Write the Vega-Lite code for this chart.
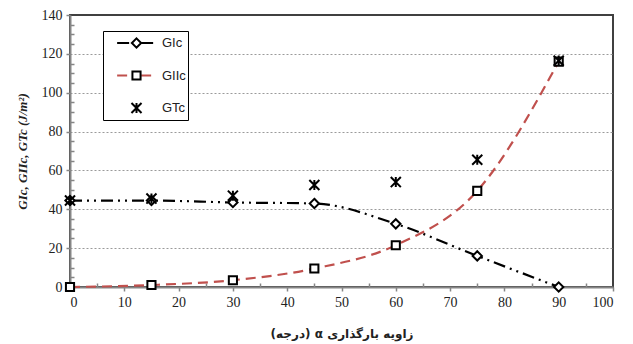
{
  "$schema": "https://vega.github.io/schema/vega-lite/v6.json",
  "width": 543,
  "height": 272,
  "autosize": {"type": "none"},
  "padding": {"left": 70, "top": 15, "right": 20, "bottom": 57},
  "background": "white",
  "config": {
    "view": {"stroke": "#404040", "strokeWidth": 2},
    "axis": {
      "labelFont": "Liberation Serif",
      "labelFontSize": 14,
      "labelColor": "#222",
      "domainColor": "#868686",
      "domainWidth": 2,
      "tickColor": "#868686",
      "tickWidth": 1.5,
      "gridColor": "#9a9a9a",
      "gridDash": [2, 2],
      "gridWidth": 1,
      "labelOverlap": false
    }
  },
  "data": {
    "values": [
      {"angle": 0, "series": "GIc", "G": 44.5},
      {"angle": 15, "series": "GIc", "G": 44.5},
      {"angle": 30, "series": "GIc", "G": 43.5},
      {"angle": 45, "series": "GIc", "G": 43},
      {"angle": 60, "series": "GIc", "G": 32.5},
      {"angle": 75, "series": "GIc", "G": 16},
      {"angle": 90, "series": "GIc", "G": 0},
      {"angle": 0, "series": "GIIc", "G": 0},
      {"angle": 15, "series": "GIIc", "G": 1},
      {"angle": 30, "series": "GIIc", "G": 3.5},
      {"angle": 45, "series": "GIIc", "G": 9.5},
      {"angle": 60, "series": "GIIc", "G": 21.5},
      {"angle": 75, "series": "GIIc", "G": 49.5},
      {"angle": 90, "series": "GIIc", "G": 116},
      {"angle": 0, "series": "GTc", "G": 44.5},
      {"angle": 15, "series": "GTc", "G": 45.5},
      {"angle": 30, "series": "GTc", "G": 47},
      {"angle": 45, "series": "GTc", "G": 52.5},
      {"angle": 60, "series": "GTc", "G": 54},
      {"angle": 75, "series": "GTc", "G": 65.5},
      {"angle": 90, "series": "GTc", "G": 116.5}
    ]
  },
  "encoding": {
    "x": {
      "field": "angle",
      "type": "quantitative",
      "scale": {"domain": [0, 100], "nice": false},
      "axis": {
        "values": [0,5,10,15,20,25,30,35,40,45,50,55,60,65,70,75,80,85,90,95,100],
        "labelExpr": "datum.value % 10 === 0 ? datum.label : ''",
        "grid": false,
        "tickSize": {"condition": {"test": "datum.value % 10 === 0", "value": 4}, "value": -4},
        "labelPadding": 4,
        "title": "\u202bزاویه بارگذاری  α  (درجه)\u202c",
        "titleFont": "DejaVu Sans",
        "titleFontSize": 12,
        "titleFontWeight": "bold",
        "titleColor": "#222",
        "titlePadding": 19
      }
    },
    "y": {
      "field": "G",
      "type": "quantitative",
      "scale": {"domain": [0, 140], "nice": false},
      "axis": {
        "values": [0,5,10,15,20,25,30,35,40,45,50,55,60,65,70,75,80,85,90,95,100,105,110,115,120,125,130,135,140],
        "labelExpr": "datum.value % 20 === 0 ? datum.label : ''",
        "grid": true,
        "gridOpacity": {"condition": {"test": "datum.value % 20 === 0 && datum.value > 0 && datum.value < 140", "value": 1}, "value": 0},
        "tickSize": {"condition": {"test": "datum.value % 20 === 0", "value": 4}, "value": -4},
        "labelPadding": 4,
        "title": "GIc,  GIIc,  GTc    (J/m²)",
        "titleFont": "Liberation Serif",
        "titleFontSize": 13,
        "titleFontWeight": "bold",
        "titleFontStyle": "italic",
        "titleColor": "#222",
        "titlePadding": 12
      }
    }
  },
  "layer": [
    {
      "transform": [{"filter": "datum.series !== 'GTc'"}],
      "mark": {"type": "line", "interpolate": "monotone", "strokeWidth": 2.2},
      "encoding": {
        "stroke": {
          "field": "series",
          "type": "nominal",
          "scale": {"domain": ["GIc", "GIIc", "GTc"], "range": ["black", "#C0504D", "transparent"]},
          "legend": {
            "orient": "none",
            "legendX": 33,
            "legendY": 16,
            "title": null,
            "symbolType": "M-1,0H-0.24M0.24,0H1",
            "symbolSize": 1500,
            "symbolStrokeWidth": 2.2,
            "symbolOffset": 11,
            "clipHeight": 20,
            "labelFont": "Liberation Sans",
            "labelFontSize": 13,
            "labelColor": "#222",
            "labelOffset": 5,
            "labelExpr": "datum.label + '\u00a0\u00a0'",
            "rowPadding": 12.5,
            "padding": 2,
            "strokeColor": "black",
            "fillColor": "white"
          }
        },
        "strokeDash": {
          "field": "series",
          "type": "nominal",
          "scale": {"domain": ["GIc", "GIIc", "GTc"], "range": [[12, 5, 2, 5, 2, 5], [10, 6], [1, 0]]}
        }
      }
    },
    {
      "mark": {"type": "point", "filled": false, "fill": "white", "stroke": "black", "strokeWidth": 2, "size": 1500, "opacity": 1},
      "encoding": {
        "shape": {
          "field": "series",
          "type": "nominal",
          "scale": {
            "domain": ["GIc", "GIIc", "GTc", "none"],
            "range": [
              "M0,-0.24L0.24,0L0,0.24L-0.24,0Z",
              "M-0.21,-0.21H0.21V0.21H-0.21Z",
              "M-0.26,-0.26L0.26,0.26M0.26,-0.26L-0.26,0.26M0,-0.26V0.26",
              "M0,0"
            ]
          },
          "legend": {
            "orient": "none",
            "legendX": 33,
            "legendY": 16,
            "title": null,
            "values": ["GIc", "GIIc", "GTc"],
            "symbolSize": 1500,
            "symbolStrokeWidth": 2,
            "symbolOffset": 11,
            "clipHeight": 20,
            "labelFont": "Liberation Sans",
            "labelFontSize": 13,
            "labelColor": "transparent",
            "labelOffset": 5,
            "rowPadding": 12.5,
            "padding": 2
          }
        }
      }
    }
  ]
}
